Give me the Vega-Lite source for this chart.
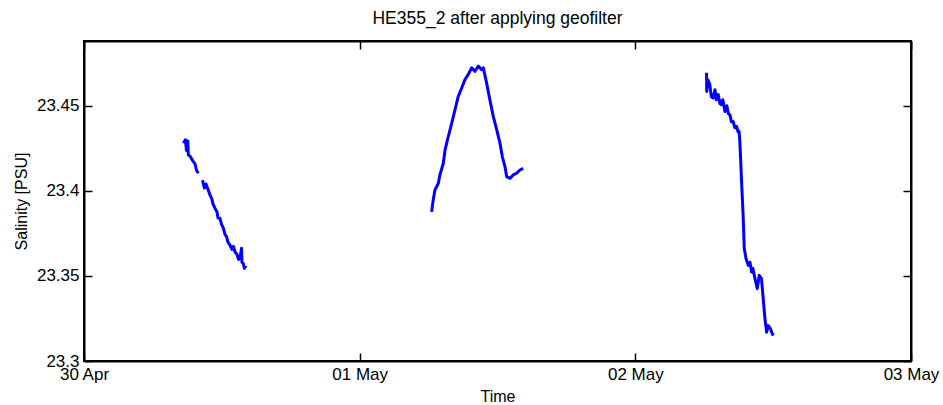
{
  "$schema": "https://vega.github.io/schema/vega-lite/v6.json",
  "width": 827,
  "height": 320,
  "autosize": {"type": "none"},
  "padding": {"left": 84, "top": 41, "right": 32, "bottom": 44},
  "title": {"text": "HE355_2 after applying geofilter", "fontSize": 17.5, "font": "Liberation Sans", "fontWeight": "normal", "color": "black", "offset": 13, "anchor": "middle"},
  "config": {
    "font": "Liberation Sans",
    "view": {"stroke": "black", "strokeWidth": 2},
    "title": {"fontSize": 17.5},
    "axis": {"domainColor": "black", "domainWidth": 2, "tickColor": "black", "tickWidth": 1.5, "tickSize": -8, "labelColor": "black", "labelFont": "Liberation Sans", "labelFontSize": 17, "titleFont": "Liberation Sans", "titleFontSize": 16, "titleFontWeight": "normal", "titleColor": "black", "grid": false}
  },
  "data": {"values": [
    {"t": "2013-04-30T08:39:00Z", "s": 23.428, "seg": "1a"},
    {"t": "2013-04-30T08:50:00Z", "s": 23.430, "seg": "1a"},
    {"t": "2013-04-30T08:55:00Z", "s": 23.4237, "seg": "1a"},
    {"t": "2013-04-30T09:02:00Z", "s": 23.4293, "seg": "1a"},
    {"t": "2013-04-30T09:05:00Z", "s": 23.4211, "seg": "1a"},
    {"t": "2013-04-30T09:16:00Z", "s": 23.420, "seg": "1a"},
    {"t": "2013-04-30T09:31:00Z", "s": 23.4171, "seg": "1a"},
    {"t": "2013-04-30T09:40:00Z", "s": 23.4158, "seg": "1a"},
    {"t": "2013-04-30T09:47:00Z", "s": 23.4122, "seg": "1a"},
    {"t": "2013-04-30T09:57:00Z", "s": 23.4103, "seg": "1a"},
    {"t": "2013-04-30T10:19:00Z", "s": 23.4063, "seg": "1b"},
    {"t": "2013-04-30T10:29:00Z", "s": 23.4016, "seg": "1b"},
    {"t": "2013-04-30T10:37:00Z", "s": 23.404, "seg": "1b"},
    {"t": "2013-04-30T10:49:00Z", "s": 23.4004, "seg": "1b"},
    {"t": "2013-04-30T10:58:00Z", "s": 23.3975, "seg": "1b"},
    {"t": "2013-04-30T11:07:00Z", "s": 23.3955, "seg": "1b"},
    {"t": "2013-04-30T11:14:00Z", "s": 23.3922, "seg": "1b"},
    {"t": "2013-04-30T11:24:00Z", "s": 23.3898, "seg": "1b"},
    {"t": "2013-04-30T11:35:00Z", "s": 23.3875, "seg": "1b"},
    {"t": "2013-04-30T11:40:00Z", "s": 23.384, "seg": "1b"},
    {"t": "2013-04-30T11:50:00Z", "s": 23.3839, "seg": "1b"},
    {"t": "2013-04-30T11:58:00Z", "s": 23.3804, "seg": "1b"},
    {"t": "2013-04-30T12:08:00Z", "s": 23.378, "seg": "1b"},
    {"t": "2013-04-30T12:16:00Z", "s": 23.3745, "seg": "1b"},
    {"t": "2013-04-30T12:25:00Z", "s": 23.3729, "seg": "1b"},
    {"t": "2013-04-30T12:32:00Z", "s": 23.3698, "seg": "1b"},
    {"t": "2013-04-30T12:43:00Z", "s": 23.368, "seg": "1b"},
    {"t": "2013-04-30T12:53:00Z", "s": 23.3656, "seg": "1b"},
    {"t": "2013-04-30T13:01:00Z", "s": 23.3674, "seg": "1b"},
    {"t": "2013-04-30T13:09:00Z", "s": 23.364, "seg": "1b"},
    {"t": "2013-04-30T13:19:00Z", "s": 23.3627, "seg": "1b"},
    {"t": "2013-04-30T13:27:00Z", "s": 23.3597, "seg": "1b"},
    {"t": "2013-04-30T13:35:00Z", "s": 23.3603, "seg": "1b"},
    {"t": "2013-04-30T13:43:00Z", "s": 23.3662, "seg": "1b"},
    {"t": "2013-04-30T13:45:00Z", "s": 23.358, "seg": "1b"},
    {"t": "2013-04-30T13:52:00Z", "s": 23.3572, "seg": "1b"},
    {"t": "2013-04-30T13:58:00Z", "s": 23.3544, "seg": "1b"},
    {"t": "2013-04-30T14:06:00Z", "s": 23.3562, "seg": "1b"},
    {"t": "2013-05-01T06:16:00Z", "s": 23.3876, "seg": "2"},
    {"t": "2013-05-01T06:24:00Z", "s": 23.3945, "seg": "2"},
    {"t": "2013-05-01T06:33:00Z", "s": 23.4004, "seg": "2"},
    {"t": "2013-05-01T06:51:00Z", "s": 23.4044, "seg": "2"},
    {"t": "2013-05-01T06:59:00Z", "s": 23.4093, "seg": "2"},
    {"t": "2013-05-01T07:17:00Z", "s": 23.4162, "seg": "2"},
    {"t": "2013-05-01T07:26:00Z", "s": 23.424, "seg": "2"},
    {"t": "2013-05-01T07:43:00Z", "s": 23.4319, "seg": "2"},
    {"t": "2013-05-01T08:01:00Z", "s": 23.4398, "seg": "2"},
    {"t": "2013-05-01T08:18:00Z", "s": 23.4476, "seg": "2"},
    {"t": "2013-05-01T08:35:00Z", "s": 23.4555, "seg": "2"},
    {"t": "2013-05-01T08:53:00Z", "s": 23.4604, "seg": "2"},
    {"t": "2013-05-01T09:10:00Z", "s": 23.4653, "seg": "2"},
    {"t": "2013-05-01T09:27:00Z", "s": 23.4683, "seg": "2"},
    {"t": "2013-05-01T09:45:00Z", "s": 23.4722, "seg": "2"},
    {"t": "2013-05-01T10:02:00Z", "s": 23.4702, "seg": "2"},
    {"t": "2013-05-01T10:19:00Z", "s": 23.4732, "seg": "2"},
    {"t": "2013-05-01T10:37:00Z", "s": 23.4712, "seg": "2"},
    {"t": "2013-05-01T10:46:00Z", "s": 23.4722, "seg": "2"},
    {"t": "2013-05-01T11:03:00Z", "s": 23.4634, "seg": "2"},
    {"t": "2013-05-01T11:20:00Z", "s": 23.4535, "seg": "2"},
    {"t": "2013-05-01T11:38:00Z", "s": 23.4437, "seg": "2"},
    {"t": "2013-05-01T11:56:00Z", "s": 23.4358, "seg": "2"},
    {"t": "2013-05-01T12:13:00Z", "s": 23.428, "seg": "2"},
    {"t": "2013-05-01T12:25:00Z", "s": 23.4201, "seg": "2"},
    {"t": "2013-05-01T12:39:00Z", "s": 23.4142, "seg": "2"},
    {"t": "2013-05-01T12:48:00Z", "s": 23.4083, "seg": "2"},
    {"t": "2013-05-01T13:05:00Z", "s": 23.4073, "seg": "2"},
    {"t": "2013-05-01T13:22:00Z", "s": 23.4093, "seg": "2"},
    {"t": "2013-05-01T13:40:00Z", "s": 23.4103, "seg": "2"},
    {"t": "2013-05-01T13:57:00Z", "s": 23.4122, "seg": "2"},
    {"t": "2013-05-01T14:14:00Z", "s": 23.4132, "seg": "2"},
    {"t": "2013-05-02T06:12:00Z", "s": 23.4693, "seg": "3"},
    {"t": "2013-05-02T06:13:00Z", "s": 23.4584, "seg": "3"},
    {"t": "2013-05-02T06:19:00Z", "s": 23.4653, "seg": "3"},
    {"t": "2013-05-02T06:29:00Z", "s": 23.4624, "seg": "3"},
    {"t": "2013-05-02T06:37:00Z", "s": 23.4553, "seg": "3"},
    {"t": "2013-05-02T06:47:00Z", "s": 23.4545, "seg": "3"},
    {"t": "2013-05-02T06:56:00Z", "s": 23.4594, "seg": "3"},
    {"t": "2013-05-02T07:03:00Z", "s": 23.4535, "seg": "3"},
    {"t": "2013-05-02T07:13:00Z", "s": 23.4565, "seg": "3"},
    {"t": "2013-05-02T07:22:00Z", "s": 23.4512, "seg": "3"},
    {"t": "2013-05-02T07:30:00Z", "s": 23.4506, "seg": "3"},
    {"t": "2013-05-02T07:37:00Z", "s": 23.4535, "seg": "3"},
    {"t": "2013-05-02T07:48:00Z", "s": 23.4466, "seg": "3"},
    {"t": "2013-05-02T07:58:00Z", "s": 23.45, "seg": "3"},
    {"t": "2013-05-02T08:06:00Z", "s": 23.4453, "seg": "3"},
    {"t": "2013-05-02T08:14:00Z", "s": 23.4447, "seg": "3"},
    {"t": "2013-05-02T08:22:00Z", "s": 23.4405, "seg": "3"},
    {"t": "2013-05-02T08:31:00Z", "s": 23.4407, "seg": "3"},
    {"t": "2013-05-02T08:40:00Z", "s": 23.437, "seg": "3"},
    {"t": "2013-05-02T08:49:00Z", "s": 23.4378, "seg": "3"},
    {"t": "2013-05-02T08:56:00Z", "s": 23.4347, "seg": "3"},
    {"t": "2013-05-02T09:02:00Z", "s": 23.4348, "seg": "3"},
    {"t": "2013-05-02T09:06:00Z", "s": 23.4289, "seg": "3"},
    {"t": "2013-05-02T09:15:00Z", "s": 23.4053, "seg": "3"},
    {"t": "2013-05-02T09:23:00Z", "s": 23.3857, "seg": "3"},
    {"t": "2013-05-02T09:29:00Z", "s": 23.3661, "seg": "3"},
    {"t": "2013-05-02T09:38:00Z", "s": 23.3602, "seg": "3"},
    {"t": "2013-05-02T09:50:00Z", "s": 23.3562, "seg": "3"},
    {"t": "2013-05-02T09:59:00Z", "s": 23.358, "seg": "3"},
    {"t": "2013-05-02T10:07:00Z", "s": 23.3523, "seg": "3"},
    {"t": "2013-05-02T10:14:00Z", "s": 23.3544, "seg": "3"},
    {"t": "2013-05-02T10:25:00Z", "s": 23.3484, "seg": "3"},
    {"t": "2013-05-02T10:37:00Z", "s": 23.3425, "seg": "3"},
    {"t": "2013-05-02T10:47:00Z", "s": 23.3503, "seg": "3"},
    {"t": "2013-05-02T10:59:00Z", "s": 23.3484, "seg": "3"},
    {"t": "2013-05-02T11:08:00Z", "s": 23.3366, "seg": "3"},
    {"t": "2013-05-02T11:17:00Z", "s": 23.3248, "seg": "3"},
    {"t": "2013-05-02T11:26:00Z", "s": 23.3169, "seg": "3"},
    {"t": "2013-05-02T11:34:00Z", "s": 23.3208, "seg": "3"},
    {"t": "2013-05-02T11:46:00Z", "s": 23.3189, "seg": "3"},
    {"t": "2013-05-02T11:53:00Z", "s": 23.3167, "seg": "3"},
    {"t": "2013-05-02T12:00:00Z", "s": 23.3149, "seg": "3"}
  ]},
  "layer": [
    {
      "mark": {"type": "line", "color": "#0000ff", "strokeWidth": 3, "strokeJoin": "round"},
      "encoding": {
        "x": {"field": "t", "type": "temporal",
          "scale": {"type": "utc", "domain": [{"year": 2013, "month": 4, "date": 30, "utc": true}, {"year": 2013, "month": 5, "date": 3, "utc": true}]},
          "axis": {"orient": "bottom", "title": "Time", "labelExpr": "utcFormat(datum.value, '%d %b')", "labelPadding": 13, "titlePadding": 6, "labelFlush": false,
            "values": [{"year": 2013, "month": 4, "date": 30, "utc": true}, {"year": 2013, "month": 5, "date": 1, "utc": true}, {"year": 2013, "month": 5, "date": 2, "utc": true}, {"year": 2013, "month": 5, "date": 3, "utc": true}]}},
        "y": {"field": "s", "type": "quantitative",
          "scale": {"domain": [23.3, 23.488], "zero": false, "nice": false},
          "axis": {"orient": "left", "title": "Salinity [PSU]", "values": [23.3, 23.35, 23.4, 23.45], "format": ".2~f", "labelPadding": 13, "titlePadding": 7}},
        "detail": {"field": "seg"}
      }
    },
    {
      "mark": {"type": "line", "opacity": 0},
      "encoding": {
        "x": {"field": "t", "type": "temporal",
          "axis": {"orient": "top", "title": null, "labels": false,
            "values": [{"year": 2013, "month": 4, "date": 30, "utc": true}, {"year": 2013, "month": 5, "date": 1, "utc": true}, {"year": 2013, "month": 5, "date": 2, "utc": true}, {"year": 2013, "month": 5, "date": 3, "utc": true}]}},
        "y": {"field": "s", "type": "quantitative",
          "axis": {"orient": "right", "title": null, "labels": false, "values": [23.3, 23.35, 23.4, 23.45]}},
        "detail": {"field": "seg"}
      }
    }
  ],
  "resolve": {"axis": {"x": "independent", "y": "independent"}}
}
